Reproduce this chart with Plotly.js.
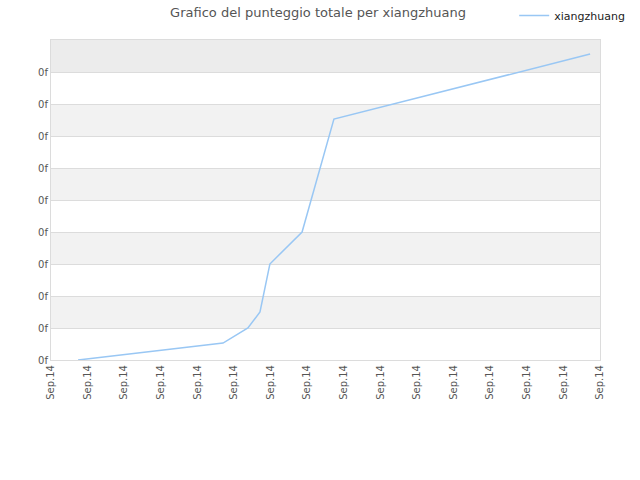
<!DOCTYPE html>
<html>
<head>
<meta charset="utf-8">
<script src="https://cdn.plot.ly/plotly-3.0.1.min.js"></script>
<style>
  body { margin: 0; }
  #chart { width: 640px; height: 480px; }
</style>
</head>
<body>
<div id="chart"></div>
<script>
// series (x in tick units, y in grid units)
const xPoints = [0.74, 4.7, 5.38, 5.71, 5.98, 6.86, 7.73, 14.73];
const yPoints = [0, 0.53, 1.0, 1.5, 3.0, 4.0, 7.53, 9.56];

const xTickVals = [0,1,2,3,4,5,6,7,8,9,10,11,12,13,14,15];
const xTickText = xTickVals.map(() => 'Sep.14');
const yTickVals = [0,1,2,3,4,5,6,7,8,9];
const yTickText = yTickVals.map(() => '0f');

// alternating grey bands
const bands = [[1,2,'#f2f2f2'],[3,4,'#f2f2f2'],[5,6,'#f2f2f2'],[7,8,'#f2f2f2'],[9,10,'#ececec']];

let shapes = bands.map(b => ({
    type: 'rect', xref: 'paper', yref: 'y',
    x0: 0, x1: 1, y0: b[0], y1: b[1],
    fillcolor: b[2], line: {width: 0}, layer: 'below'
}));

let trace = {
    x: xPoints,
    y: yPoints,
    type: 'scatter',
    mode: 'lines',
    name: 'xiangzhuang',
    line: {color: '#99c7f4', width: 1.5}
};

let layout = {
    width: 640, height: 480,
    margin: {l: 51, r: 40, t: 40, b: 120, autoexpand: false},
    paper_bgcolor: '#ffffff',
    plot_bgcolor: '#ffffff',
    font: {family: 'DejaVu Sans, Verdana, sans-serif', size: 11, color: '#444'},
    title: {
        text: 'Grafico del punteggio totale per xiangzhuang',
        font: {size: 13, color: '#555'},
        x: 0.497, xanchor: 'center', y: 0.975, yanchor: 'middle'
    },
    showlegend: true,
    legend: {
        x: 1.055, xanchor: 'right', y: 1.031, yanchor: 'bottom',
        font: {size: 11, color: '#222'},
        bgcolor: 'rgba(0,0,0,0)'
    },
    xaxis: {
        range: [0, 15],
        tickvals: xTickVals, ticktext: xTickText,
        tickangle: -90,
        showgrid: false, zeroline: false,
        showline: true, linecolor: '#dcdcdc', linewidth: 1, mirror: true,
        ticks: '', tickfont: {size: 10, color: '#555'}
    },
    yaxis: {
        range: [0, 10],
        tickvals: yTickVals, ticktext: yTickText,
        showgrid: true, gridcolor: '#dcdcdc', gridwidth: 1,
        zeroline: false,
        showline: true, linecolor: '#dcdcdc', linewidth: 1, mirror: true,
        ticks: '', tickfont: {size: 10, color: '#555'}
    },
    shapes: shapes
};

Plotly.newPlot('chart', [trace], layout, {displayModeBar: false});
</script>
</body>
</html>
